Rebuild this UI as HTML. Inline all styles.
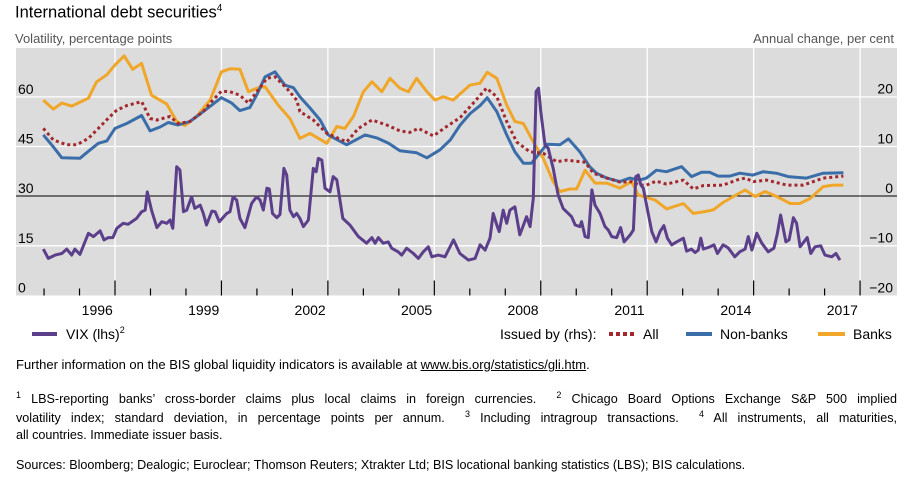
<!DOCTYPE html>
<html><head><meta charset="utf-8">
<style>
body{margin:0;width:906px;height:478px;background:#fff;overflow:hidden;font-family:"Liberation Sans",sans-serif;position:relative;color:#000}
.t{position:absolute;white-space:nowrap}
.fn{position:absolute;left:16px;width:881px;font-size:12.6px;white-space:nowrap;text-align:justify;text-align-last:justify}
</style></head><body>
<div class="t" style="left:15px;top:3px;font-size:16.5px">International debt securities<sup style="font-size:10px">4</sup></div>
<div class="t" style="left:15px;top:31px;font-size:13px;color:#555">Volatility, percentage points</div>
<div class="t" style="right:12px;top:31px;font-size:13px;color:#555">Annual change, per cent</div>
<svg id="chart" width="906" height="350" style="position:absolute;left:0;top:0" font-family="Liberation Sans, sans-serif"></svg>
<div class="t" style="left:16px;top:357px;font-size:13px">Further information on the BIS global liquidity indicators is available at <u>www.bis.org/statistics/gli.htm</u>.</div>
<div class="fn" style="top:390px"><sup style="font-size:9px">1</sup> LBS-reporting banks’ cross-border claims plus local claims in foreign currencies. &nbsp;<sup style="font-size:9px">2</sup> Chicago Board Options Exchange S&amp;P 500 implied</div>
<div class="fn" style="top:409px">volatility index; standard deviation, in percentage points per annum. &nbsp;<sup style="font-size:9px">3</sup> Including intragroup transactions. &nbsp;<sup style="font-size:9px">4</sup> All instruments, all maturities,</div>
<div class="t" style="left:16px;top:428px;font-size:12.6px">all countries. Immediate issuer basis.</div>
<div class="t" style="left:16px;top:458px;font-size:12.6px">Sources: Bloomberg; Dealogic; Euroclear; Thomson Reuters; Xtrakter Ltd; BIS locational banking statistics (LBS); BIS calculations.</div>
<script>
const leftTicks=[0,15,30,45,60];
const rightTicks=[-20,-10,0,10,20];
const yearLabels=[1996,1999,2002,2005,2008,2011,2014,2017];
const vixDates=[1993.98,1994.12,1994.31,1994.5,1994.64,1994.78,1994.87,1995.01,1995.25,1995.39,1995.58,1995.69,1995.81,1995.94,1996.05,1996.23,1996.37,1996.61,1996.75,1996.85,1996.91,1997.03,1997.18,1997.32,1997.46,1997.55,1997.63,1997.74,1997.83,1997.93,1998.02,1998.16,1998.25,1998.4,1998.49,1998.58,1998.73,1998.82,1998.94,1999.15,1999.24,1999.33,1999.43,1999.52,1999.66,1999.85,1999.99,2000.09,2000.18,2000.28,2000.35,2000.44,2000.56,2000.65,2000.76,2000.84,2000.93,2001.03,2001.12,
2001.21,2001.31,2001.45,2001.59,2001.67,2001.73,2001.83,2001.92,2002.06,2002.15,2002.25,2002.42,2002.62,2002.86,2003.09,2003.24,2003.33,2003.42,2003.56,2003.7,2003.8,2003.98,2004.08,2004.22,2004.41,2004.55,2004.69,2004.83,2004.93,2005.11,2005.3,2005.54,2005.72,2005.96,2006.15,2006.29,2006.43,2006.57,2006.66,2006.76,2006.83,2006.94,2007.04,2007.13,2007.27,2007.41,2007.6,2007.7,2007.79,2007.87,2007.94,2008.0,2008.12,2008.21,2008.35,2008.49,2008.63,2008.87,2008.97,2009.1,
2009.15,2009.25,2009.34,2009.44,2009.53,2009.67,2009.81,2009.9,2010.0,2010.14,2010.25,2010.35,2010.52,2010.61,2010.68,2010.75,2010.82,2010.89,2011.0,2011.13,2011.25,2011.36,2011.47,2011.57,2011.69,2011.83,2012.02,2012.11,2012.25,2012.35,2012.44,2012.51,2012.58,2012.77,2012.88,2012.98,2013.14,2013.28,2013.47,2013.61,2013.76,2013.85,2013.95,2014.09,2014.23,2014.41,2014.57,2014.67,2014.76,2014.91,2015.0,2015.12,2015.21,2015.31,2015.51,2015.61,2015.73,2015.89,2016.01,2016.2,2016.32,2016.43];
const vixValues=[14.0,11.2,12.2,12.7,14.0,12.2,14.0,12.4,18.8,17.8,19.5,16.8,17.5,17.5,20.3,21.8,21.5,23.3,25.3,25.8,31.3,25.8,20.5,22.3,21.8,22.8,20.3,38.9,37.9,25.3,25.8,29.8,26.3,27.3,24.8,21.3,25.5,25.3,22.3,24.8,25.3,29.8,28.8,23.3,20.5,27.8,29.8,28.8,25.8,32.4,32.2,24.8,23.5,24.5,38.4,36.4,25.8,23.8,24.8,
23.3,20.8,22.8,38.4,37.4,41.4,40.9,32.4,31.3,35.9,34.9,23.3,21.3,17.8,15.8,17.5,15.8,17.5,15.8,16.2,14.3,13.2,12.2,14.3,12.7,11.2,13.2,14.7,11.7,12.2,11.7,16.8,12.7,10.7,11.2,15.3,13.7,17.3,24.8,21.3,19.3,25.8,21.8,25.8,26.8,18.3,23.8,20.8,29.4,61.6,62.6,55.5,45.5,44.5,38.4,30.4,26.3,23.8,21.3,20.8,
22.3,17.8,17.5,31.9,27.3,24.8,20.8,19.8,17.8,17.5,20.5,16.2,18.3,19.8,35.9,36.4,33.4,32.4,26.3,19.3,16.2,19.3,21.1,17.3,15.3,16.2,17.3,13.4,14.0,13.0,13.7,17.3,14.0,14.7,15.3,12.7,15.3,14.4,11.7,13.2,14.0,17.8,13.7,18.8,15.8,13.2,14.3,18.8,24.3,16.2,16.8,23.5,21.8,14.7,17.5,12.7,14.7,15.0,12.2,11.7,12.7,10.7];
const allDates=[1993.98,1994.26,1994.64,1994.92,1995.25,1995.53,1995.86,1996.05,1996.33,1996.75,1996.99,1997.18,1997.55,1997.78,1998.11,1998.49,1998.72,1999.0,1999.24,1999.52,1999.76,2000.0,2000.28,2000.51,2000.84,2001.12,
2001.21,2001.59,2001.97,2002.53,2002.86,2003.24,2003.66,2004.03,2004.31,2004.55,2004.97,2005.35,2005.73,2006.1,2006.47,2006.76,2007.04,2007.32,2007.69,2008.07,2008.45,2008.73,
2009.25,2009.48,2009.86,2010.23,2010.56,2010.79,2010.98,2011.26,2011.54,2012.02,2012.3,2012.58,2013.14,2013.52,2013.76,2013.99,2014.37,2014.93,2015.4,2015.96,2016.53];
const allValues=[13.6,11.3,10.3,10.3,11.6,13.6,16.0,17.3,18.2,19.0,15.6,15.3,16.0,14.6,15.0,17.0,19.0,21.1,21.0,20.3,18.7,21.0,23.7,24.0,21.7,19.3,
17.0,15.3,12.6,10.9,13.6,15.3,14.3,13.1,12.8,13.6,12.1,14.0,15.8,18.7,21.7,20.0,15.0,10.9,8.9,8.6,6.9,7.2,
6.8,4.6,3.6,2.8,2.9,2.2,2.2,3.0,2.4,3.2,1.4,2.1,2.2,3.2,3.6,2.9,3.2,2.2,2.2,3.6,4.0];
const nonBankDates=[1993.98,1994.26,1994.5,1995.01,1995.3,1995.53,1995.77,1996.0,1996.33,1996.75,1996.99,1997.27,1997.5,1997.78,1998.11,1998.49,1999.0,1999.29,1999.52,1999.8,1999.99,2000.23,2000.51,2000.79,2001.03,
2001.21,2001.5,2001.78,2002.01,2002.53,2003.05,2003.38,2003.71,2004.03,2004.5,2004.79,2005.16,2005.45,2005.73,2006.01,2006.29,2006.49,2006.76,2007.04,2007.27,2007.51,2007.74,2008.17,2008.54,2008.78,
2009.1,2009.38,2009.57,2009.86,2010.23,2010.51,2010.79,2010.98,2011.26,2011.54,2011.97,2012.25,2012.53,2012.76,2013.0,2013.33,2013.61,2013.98,2014.27,2014.64,2014.97,2015.49,2015.96,2016.53];
const nonBankValues=[12.3,9.9,7.7,7.6,9.3,10.6,11.1,13.6,14.6,16.2,13.1,13.9,14.8,14.3,15.0,17.0,19.8,18.7,17.2,17.8,20.3,24.0,25.0,22.3,21.8,
20.0,17.7,15.3,12.3,10.3,12.3,11.7,10.6,9.1,8.7,7.7,9.3,11.3,14.3,16.6,18.2,19.8,17.0,12.3,8.9,6.6,6.6,10.4,10.3,11.5,
8.9,5.9,4.6,3.6,2.9,3.6,3.2,3.6,5.2,4.9,5.9,3.9,4.8,4.8,4.0,4.0,4.6,4.2,4.9,4.6,3.9,3.6,4.6,4.7];
const bankDates=[1993.98,1994.26,1994.5,1994.78,1995.25,1995.48,1995.77,1996.0,1996.26,1996.5,1996.75,1997.03,1997.46,1997.74,1997.97,1998.3,1998.68,1999.0,1999.24,1999.52,1999.76,2000.0,2000.23,2000.6,2000.93,
2001.21,2001.5,2001.97,2002.25,2002.48,2002.72,2003.0,2003.24,2003.52,2003.75,2004.03,2004.27,2004.5,2004.79,2005.02,2005.25,2005.53,2006.0,2006.29,2006.49,2006.76,2007.04,2007.27,2007.51,2007.79,2008.07,2008.35,2008.54,2008.82,
2009.01,2009.25,2009.53,2009.86,2010.23,2010.56,2010.75,2011.22,2011.55,2012.02,2012.3,2012.58,2012.86,2013.14,2013.43,2013.76,2014.04,2014.32,2014.65,2015.03,2015.3,2015.59,2015.96,2016.24,2016.53];
const bankValues=[19.3,17.5,18.7,18.1,19.7,23.0,24.4,26.4,28.2,25.5,26.7,20.3,18.5,15.0,14.2,16.0,19.3,25.0,25.6,25.5,21.0,21.7,22.0,18.3,15.6,
11.6,12.6,10.6,14.0,13.6,16.0,21.0,23.0,21.0,23.7,21.7,21.0,23.7,21.0,19.3,20.0,19.3,22.3,22.7,24.9,23.7,18.3,15.0,14.6,10.9,7.6,2.9,0.9,1.4,
1.4,5.2,2.6,2.6,1.6,2.9,0.2,-0.8,-2.6,-1.5,-3.5,-3.2,-2.8,-1.3,-0.1,1.2,-0.1,0.9,-0.1,-1.5,-1.5,-0.5,1.9,2.2,2.2];

const NS='http://www.w3.org/2000/svg';
const svg=document.getElementById('chart');
const PL=16,PR=897,PT=48,PB=295.5;
function xs(t){return 115+(t-1996)*35.48;}
function yl(v){return 295.5-v*3.311;}
function yr(r){return 196-r*4.967;}
function mk(tag,attrs){const e=document.createElementNS(NS,tag);for(const k in attrs)e.setAttribute(k,attrs[k]);svg.appendChild(e);return e;}
let e=mk('rect',{x:PL,y:PT,width:PR-PL,height:PB-PT,fill:'#dcdcdc'});


leftTicks.forEach(v=>{
  if(v>0&&v!==30){const g=mk('line',{x1:PL,x2:PR,y1:yl(v),y2:yl(v),stroke:'#fff','stroke-width':1.3});
  
  }
  const t=mk('text',{x:18,y:yl(v)-3,'font-size':14,fill:'#000'});t.textContent=v;
  
  
});
rightTicks.forEach(r=>{
  const t=mk('text',{x:893,y:yr(r)-3,'font-size':14,'text-anchor':'end',fill:'#000'});t.textContent=r<0?'\u2212'+(-r):r;
  
  
});
yearLabels.forEach(y=>{
  const g=mk('line',{x1:xs(y),x2:xs(y),y1:PT,y2:PB,stroke:'#fff','stroke-width':1.3});
  
  
  const t=mk('text',{x:xs(y-0.5),y:315,'font-size':14,'text-anchor':'middle'});t.textContent=y;
  
  
});
for(let y=1994;y<=2017;y++){
  const long=(y-1996)%3===0;
  const tk=mk('line',{x1:xs(y),x2:xs(y),y1:PB-(long?15:7),y2:PB,stroke:'#000','stroke-width':1.2});
  
  
}
e=mk('line',{x1:PL,x2:PR,y1:yr(0),y2:yr(0),stroke:'#000','stroke-width':1});


function series(d,v,fy,color,dash,name){
  const p=mk('polyline',{points:d.map((t,i)=>xs(t).toFixed(1)+','+fy(v[i]).toFixed(1)).join(' '),fill:'none',stroke:color,'stroke-width':3,'stroke-linejoin':'round'});
  if(dash)p.setAttribute('stroke-dasharray',dash);
  
  
}
series(bankDates,bankValues,yr,'#f0a628',null,'banks-line');
series(nonBankDates,nonBankValues,yr,'#3b6ea8',null,'non-banks-line');
series(allDates,allValues,yr,'#a3282e','3,3','all-line');
series(vixDates,vixValues,yl,'#5c3f8a',null,'vix-line');
// legend
function leg(x1,x2,color,dash,label,tx,name){
  const l=mk('line',{x1:x1,x2:x2,y1:334,y2:334,stroke:color,'stroke-width':4});
  if(dash)l.setAttribute('stroke-dasharray',dash);
  
  
  const t=mk('text',{x:tx,y:339,'font-size':14});t.innerHTML=label;
  
  
}
leg(32,57,'#5c3f8a',null,'VIX (lhs)<tspan font-size="9" dy="-6">2</tspan>',66,'legend-vix');
e=mk('text',{x:500,y:339,'font-size':14});e.textContent='Issued by (rhs):';


leg(609,634,'#a3282e','4,3','All',643,'legend-all');
leg(686,712,'#3b6ea8',null,'Non-banks',720,'legend-non-banks');
leg(818,845,'#f0a628',null,'Banks',853,'legend-banks');
</script>
</body></html>
